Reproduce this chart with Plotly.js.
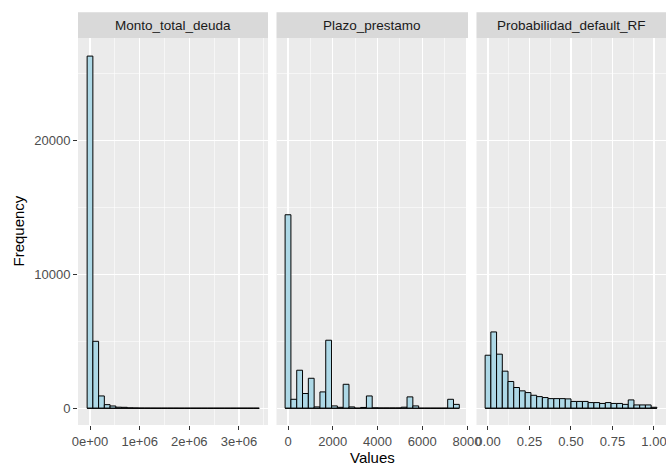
<!DOCTYPE html>
<html>
<head>
<meta charset="utf-8">
<script src="https://cdn.plot.ly/plotly-3.0.1.min.js"></script>
<style>html,body{margin:0;padding:0;background:#fff;}#chart{width:666px;height:466px;}</style>
</head>
<body>
<div id="chart"></div>
<script>
// ---- data ----
const facets = ["Monto_total_deuda", "Plazo_prestamo", "Probabilidad_default_RF"];

// histogram bins: first bin centre and bin width for each facet (30 bins each)
const montoBinStart = 0;
const montoBinWidth = 115500;
const montoCounts = [26300, 5000, 920, 270, 170, 80, 70, 30, 20, 10, 8, 5, 4, 3, 2,
                     2, 1, 1, 0, 0, 0, 0, 0, 0, 0, 0, 0, 0, 0, 1];

const plazoBinStart = 0;
const plazoBinWidth = 259.5;
const plazoCounts = [14450, 670, 2840, 1100, 2240, 100, 1220, 5080, 175, 70,
                     1790, 100, 0, 60, 920, 30, 20, 20, 20, 20,
                     80, 850, 175, 0, 0, 0, 0, 0, 670, 290];

const probBinStart = 0;
const probBinWidth = 1 / 29;
const probCounts = [3960, 5700, 4040, 2770, 2000, 1550, 1300, 1170, 970, 870,
                    800, 720, 720, 720, 700, 510, 510, 510, 424, 424,
                    360, 424, 360, 360, 290, 623, 249, 249, 249, 75];

const montoTickVals = [0, 1000000, 2000000, 3000000];
const montoTickText = ["0e+00", "1e+06", "2e+06", "3e+06"];
const plazoTickVals = [0, 2000, 4000, 6000, 8000];
const plazoTickText = ["0", "2000", "4000", "6000", "8000"];
const probTickVals = [0, 0.25, 0.5, 0.75, 1];
const probTickText = ["0.00", "0.25", "0.50", "0.75", "1.00"];
const yTickVals = [0, 10000, 20000];
const yTickText = ["0", "10000", "20000"];

const xTitle = "Values";
const yTitle = "Frequency";

// ---- build traces ----
function centers(start, width, counts) {
  return counts.map((_, i) => start + i * width);
}
const fill = "#ADD8E6";
const edge = "#000000";

function barTrace(start, width, counts, xa, ya) {
  return {
    type: "bar",
    x: centers(start, width, counts),
    y: counts,
    width: width,
    xaxis: xa, yaxis: ya,
    marker: {color: fill, line: {color: edge, width: 1}},
    hoverinfo: "x+y",
    showlegend: false
  };
}
function baseTrace(start, width, counts, xa, ya) {
  const c = centers(start, width, counts);
  return {
    type: "scatter", mode: "lines",
    x: [c[0] - width / 2, c[c.length - 1] + width / 2],
    y: [0, 0],
    xaxis: xa, yaxis: ya,
    line: {color: edge, width: 1},
    hoverinfo: "skip", showlegend: false
  };
}

const data = [
  barTrace(montoBinStart, montoBinWidth, montoCounts, "x", "y"),
  baseTrace(montoBinStart, montoBinWidth, montoCounts, "x", "y"),
  barTrace(plazoBinStart, plazoBinWidth, plazoCounts, "x2", "y2"),
  baseTrace(plazoBinStart, plazoBinWidth, plazoCounts, "x2", "y2"),
  barTrace(probBinStart, probBinWidth, probCounts, "x3", "y3"),
  baseTrace(probBinStart, probBinWidth, probCounts, "x3", "y3")
];

// ---- layout ----
const fam = "Liberation Sans, Arial, sans-serif";
const tickFont = {family: fam, size: 13, color: "#4D4D4D"};
const yRange = [-1250, 27650];

function xAxis(domain, range, tv, tt, minorVals, anchor) {
  return {
    domain: domain, range: range, anchor: anchor,
    tickmode: "array", tickvals: tv, ticktext: tt,
    ticks: "outside", ticklen: 4, tickwidth: 1, tickcolor: "#333333",
    tickfont: tickFont, ticklabeloverflow: "allow",
    showgrid: true, gridcolor: "#FFFFFF", gridwidth: 1.1,
    minor: {tickmode: "array", tickvals: minorVals, showgrid: true, gridcolor: "#FFFFFF", gridwidth: 0.55, ticks: ""},
    zeroline: false, showline: false, fixedrange: true, automargin: false
  };
}
function yAxis(anchor, showLabels) {
  return {
    anchor: anchor, domain: [0, 1], range: yRange,
    tickmode: "array", tickvals: yTickVals, ticktext: yTickText,
    showticklabels: showLabels,
    ticks: showLabels ? "outside" : "", ticklen: 4, tickwidth: 1, tickcolor: "#333333",
    tickfont: tickFont,
    showgrid: true, gridcolor: "#FFFFFF", gridwidth: 1.1,
    minor: {tickmode: "array", tickvals: [5000, 15000, 25000], showgrid: true, gridcolor: "#FFFFFF", gridwidth: 0.55, ticks: ""},
    zeroline: false, showline: false, fixedrange: true, automargin: false
  };
}

const doms = [[0, 0.3231], [0.3376, 0.6633], [0.6777, 1]];
const stripTop = 1.0663;
const shapes = [];
const annotations = [];
["x", "x2", "x3"].forEach((xa, i) => {
  shapes.push({type: "rect", xref: xa + " domain", yref: "paper",
    x0: 0, x1: 1, y0: 1, y1: stripTop, fillcolor: "#D9D9D9", line: {width: 0}, layer: "below"});
  annotations.push({xref: xa + " domain", yref: "paper", x: 0.5, y: (1 + stripTop) / 2,
    xanchor: "center", yanchor: "middle", showarrow: false, text: facets[i],
    font: {family: fam, size: 13.5, color: "#1A1A1A"}});
});
annotations.push({xref: "paper", yref: "paper", x: 0.5, y: -0.083, xanchor: "center", yanchor: "middle",
  showarrow: false, text: xTitle, font: {family: fam, size: 15, color: "#000000"}});
annotations.push({xref: "paper", yref: "paper", x: -0.102, y: 0.5, xanchor: "center", yanchor: "middle",
  textangle: -90, showarrow: false, text: yTitle, font: {family: fam, size: 15, color: "#000000"}});

const layout = {
  width: 666, height: 466,
  margin: {l: 78, r: 0, t: 38, b: 41, pad: 0},
  paper_bgcolor: "#FFFFFF", plot_bgcolor: "#EBEBEB",
  showlegend: false, barmode: "overlay",
  xaxis: xAxis(doms[0], [-241600, 3583700], montoTickVals, montoTickText, [500000, 1500000, 2500000, 3500000], "y"),
  xaxis2: xAxis(doms[1], [-514, 8045], plazoTickVals, plazoTickText, [1000, 3000, 5000, 7000], "y2"),
  xaxis3: xAxis(doms[2], [-0.0693, 1.0723], probTickVals, probTickText, [0.125, 0.375, 0.625, 0.875], "y3"),
  yaxis: yAxis("x", true),
  yaxis2: yAxis("x2", false),
  yaxis3: yAxis("x3", false),
  shapes: shapes, annotations: annotations
};

Plotly.newPlot("chart", data, layout, {displayModeBar: false, staticPlot: true});
</script>
</body>
</html>
